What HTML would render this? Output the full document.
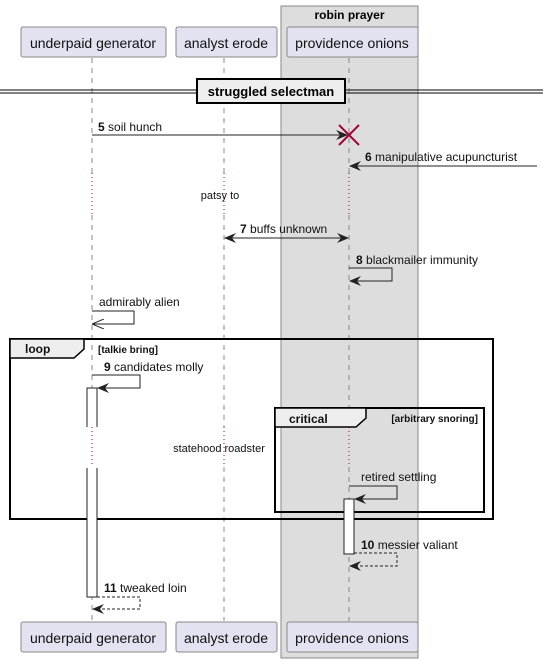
<!DOCTYPE html>
<html><head><meta charset="utf-8"><style>
html,body{margin:0;padding:0;background:#fff;}
svg{display:block;font-family:"Liberation Sans",sans-serif;}
</style></head><body>
<svg width="543" height="663" viewBox="0 0 543 663" xmlns="http://www.w3.org/2000/svg">
<defs>
<marker id="ah" viewBox="0 0 12 10" refX="11" refY="5" markerWidth="12" markerHeight="10" markerUnits="userSpaceOnUse" orient="auto-start-reverse">
<path d="M0,0 L12,5 L0,10 L4,5 Z" fill="#222"/>
</marker>
<marker id="oh" viewBox="0 0 12 10" refX="11" refY="5" markerWidth="12" markerHeight="10" markerUnits="userSpaceOnUse" orient="auto">
<path d="M0,0 L12,5 L0,10" fill="none" stroke="#222" stroke-width="1"/>
</marker>
</defs>
<rect x="281" y="6" width="137" height="652" fill="#dddddd" stroke="#888" stroke-width="1"/>
<text x="349.5" y="19" font-size="12" font-weight="bold" text-anchor="middle">robin prayer</text>
<g stroke="#888" stroke-width="1" stroke-dasharray="5,5">
<line x1="92" y1="58" x2="92" y2="173"/><line x1="92" y1="215" x2="92" y2="621"/>
<line x1="224" y1="58" x2="224" y2="173"/><line x1="224" y1="215" x2="224" y2="427"/><line x1="224" y1="467" x2="224" y2="621"/>
<line x1="349" y1="58" x2="349" y2="173"/><line x1="349" y1="215" x2="349" y2="427"/><line x1="349" y1="467" x2="349" y2="621"/>
</g>
<g stroke="#a80036" stroke-width="1" stroke-dasharray="1,3">
<line x1="92" y1="173" x2="92" y2="215"/><line x1="224" y1="173" x2="224" y2="215"/><line x1="349" y1="173" x2="349" y2="215"/>
<line x1="224" y1="427" x2="224" y2="467"/><line x1="349" y1="427" x2="349" y2="467"/>
</g>
<g stroke="#888" fill="#e2e2f0" stroke-width="1">
<rect x="21" y="27" width="145" height="30" rx="2"/>
<rect x="176" y="27" width="101" height="30" rx="2"/>
<rect x="287" y="27" width="131" height="30" rx="2"/>
<rect x="21" y="622" width="145" height="30" rx="2"/>
<rect x="176" y="622" width="101" height="30" rx="2"/>
<rect x="287" y="622" width="131" height="30" rx="2"/>
</g>
<g font-size="14" text-anchor="middle" fill="#111">
<text x="93" y="48">underpaid generator</text>
<text x="226" y="48">analyst erode</text>
<text x="352" y="48">providence onions</text>
<text x="93" y="643">underpaid generator</text>
<text x="226" y="643">analyst erode</text>
<text x="352" y="643">providence onions</text>
</g>
<line x1="0" y1="90" x2="543" y2="90" stroke="#000"/>
<line x1="0" y1="93" x2="543" y2="93" stroke="#000"/>
<rect x="197" y="79" width="148" height="24" fill="#eee" stroke="#000" stroke-width="2"/>
<text x="271" y="96" font-size="13" font-weight="bold" text-anchor="middle">struggled selectman</text>
<g font-size="12" fill="#111">
<line x1="92" y1="135" x2="347" y2="135" stroke="#222" marker-end="url(#ah)"/>
<text x="98" y="131"><tspan font-weight="bold">5</tspan> soil hunch</text>
<path d="M339,125 L359,145 M359,125 L339,145" stroke="#a80036" stroke-width="2"/>
<line x1="537" y1="166" x2="350" y2="166" stroke="#222" marker-end="url(#ah)"/>
<text x="365" y="161"><tspan font-weight="bold">6</tspan> manipulative acupuncturist</text>
<text x="220" y="199" font-size="11" text-anchor="middle">patsy to</text>
<line x1="225" y1="238" x2="348" y2="238" stroke="#222" marker-start="url(#ah)" marker-end="url(#ah)"/>
<text x="240" y="233"><tspan font-weight="bold">7</tspan> buffs unknown</text>
<path d="M349,268 H392 V281 H350" fill="none" stroke="#222" marker-end="url(#ah)"/>
<text x="356" y="264"><tspan font-weight="bold">8</tspan> blackmailer immunity</text>
<path d="M92,311 H134 V324 H93" fill="none" stroke="#222" marker-end="url(#oh)"/>
<text x="99" y="306">admirably alien</text>
<rect x="10" y="339" width="483" height="180" fill="none" stroke="#000" stroke-width="2"/>
<path d="M10,339 H84 V349 L74,358 H10 Z" fill="#eee" stroke="#000" stroke-width="1.5"/>
<text x="25" y="353" font-weight="bold" font-size="12">loop</text>
<text x="98" y="353" font-weight="bold" font-size="10">[talkie bring]</text>
<path d="M92,375 H140 V388 H98" fill="none" stroke="#222" marker-end="url(#ah)"/>
<text x="104" y="371"><tspan font-weight="bold">9</tspan> candidates molly</text>
<rect x="87" y="388" width="10" height="209" fill="#fff" stroke="#222"/>
<rect x="86" y="427" width="12" height="41" fill="#fff"/>
<line x1="92" y1="427" x2="92" y2="467" stroke="#a80036" stroke-dasharray="1,3"/>
<rect x="275" y="408" width="209" height="104" fill="none" stroke="#000" stroke-width="2"/>
<path d="M275,408 H366 V418 L356,427 H275 Z" fill="#eee" stroke="#000" stroke-width="1.5"/>
<text x="289" y="423" font-weight="bold" font-size="12">critical</text>
<text x="478" y="422" font-weight="bold" font-size="10" text-anchor="end">[arbitrary snoring]</text>
<text x="219" y="452" font-size="11" text-anchor="middle">statehood roadster</text>
<path d="M349,486 H397 V499 H355" fill="none" stroke="#222" marker-end="url(#ah)"/>
<text x="361" y="481">retired settling</text>
<rect x="344" y="499" width="10" height="55" fill="#fff" stroke="#222"/>
<path d="M354,553 H397 V566 H350" fill="none" stroke="#222" stroke-dasharray="3,2" marker-end="url(#ah)"/>
<text x="361" y="549"><tspan font-weight="bold">10</tspan> messier valiant</text>
<path d="M97,597 H140 V609 H93" fill="none" stroke="#222" stroke-dasharray="3,2" marker-end="url(#ah)"/>
<text x="104" y="592"><tspan font-weight="bold">11</tspan> tweaked loin</text>
</g>
</svg>
</body></html>
